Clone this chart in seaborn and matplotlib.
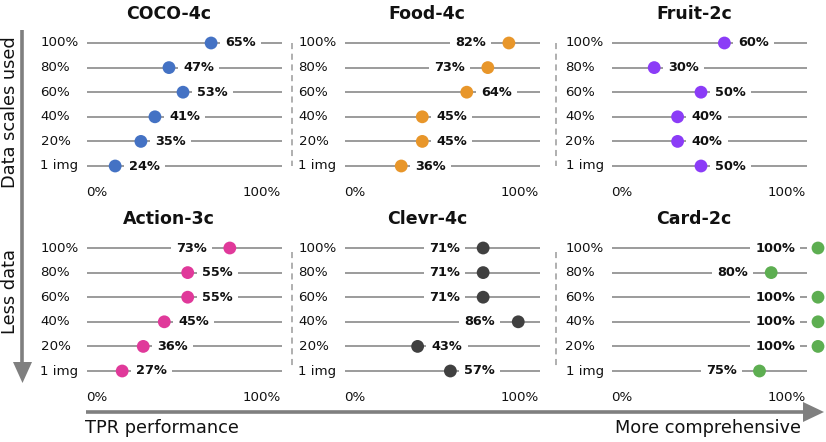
import matplotlib
matplotlib.use("Agg")
import matplotlib.pyplot as plt
import seaborn as sns
import pandas as pd
from matplotlib.patches import Polygon

# ---------------- data ----------------
row_labels = ["100%", "80%", "60%", "40%", "20%", "1 img"]
panel_titles = ["COCO-4c", "Food-4c", "Fruit-2c", "Action-3c", "Clevr-4c", "Card-2c"]
coco = [65, 47, 53, 41, 35, 24]
food = [82, 73, 64, 45, 45, 36]
fruit = [60, 30, 50, 40, 40, 50]
action = [73, 55, 55, 45, 36, 27]
clevr = [71, 71, 71, 86, 43, 57]
card = [100, 80, 100, 100, 100, 75]
panel_values = [coco, food, fruit, action, clevr, card]
panel_colors = ["#4472C4", "#E8962A", "#8B3CF7", "#E0399A", "#404040", "#5DAE51"]
axis_tick_labels = ["0%", "100%"]

# ---------------- style ----------------
sns.set_theme(style="white")
plt.rcParams["font.family"] = ["DejaVu Sans"]

W, H = 826, 442
fig = plt.figure(figsize=(W / 100, H / 100), dpi=100)

col_px0 = [59, 317, 584]   # pixel of value 0 in each column
unit = 234                 # pixels per 1.0
row_top = [43, 248]        # pixel of first row in each panel row
step = 24.6
xmax = 1.06
line_lo, line_hi = 0.12, 0.955

def add_px_axes(x, y_top, w, h):
    return fig.add_axes([x / W, 1 - (y_top + h) / H, w / W, h / H])

grey = "#808080"
ink = "#111111"

for k, (title, vals, col) in enumerate(zip(panel_titles, panel_values, panel_colors)):
    r, c = divmod(k, 3)
    ax = add_px_axes(col_px0[c], row_top[r] - step / 2, xmax * unit, 6 * step)
    df = pd.DataFrame({"row": list(range(6)), "value": [v / 100 for v in vals],
                       "label": row_labels})
    ax.hlines(df["row"], line_lo, line_hi, color=grey, lw=1.1, zorder=1)
    sns.scatterplot(data=df, x="value", y="row", ax=ax, color=col, s=85,
                    edgecolor="none", zorder=4, clip_on=False, legend=False)
    for i, v in enumerate(vals):
        right = v < 70
        ax.annotate(f"{v}%", xy=(v / 100, i),
                    xytext=(10.1 if right else -16.6, 0), textcoords="offset points",
                    ha="left" if right else "right", va="center",
                    fontsize=9.3, fontweight="bold", color=ink,
                    bbox=dict(boxstyle="square,pad=0.4", fc="white", ec="none"),
                    zorder=3, annotation_clip=False)
        ax.text(-18.5 / unit, i, row_labels[i], ha="left", va="center",
                fontsize=9.6, color=ink)
    ax.text(line_lo - 0.005, 6.06, axis_tick_labels[0], ha="left", va="center",
            fontsize=9.6, color=ink)
    ax.text(line_hi - 0.008, 6.06, axis_tick_labels[1], ha="right", va="center",
            fontsize=9.6, color=ink)
    ax.text(0.47, -1.18, title, ha="center", va="center", fontsize=12.5,
            fontweight="bold", color=ink)
    ax.set_xlim(0, xmax)
    ax.set_ylim(5.5, -0.5)
    ax.set_axis_off()

# ---------------- overlay (separators, arrows, axis titles) ----------------
ov = fig.add_axes([0, 0, 1, 1])
ov.set_xlim(0, W)
ov.set_ylim(H, 0)
ov.set_axis_off()
ov.patch.set_alpha(0)

for x in (292, 556):
    ov.plot([x, x], [43, 166], ls=(0, (4, 3)), color="#9A9A9A", lw=1.1)
    ov.plot([x, x], [252, 369], ls=(0, (4, 3)), color="#9A9A9A", lw=1.1)

arrow_grey = "#7F7F7F"
# vertical arrow
ov.plot([22, 22], [30, 364], color=arrow_grey, lw=2.6, solid_capstyle="butt")
ov.add_patch(Polygon([[13, 362], [32, 362], [22.5, 383]], closed=True,
                     fc=arrow_grey, ec="none"))
# horizontal arrow
ov.plot([86, 805], [412, 412], color=arrow_grey, lw=2.6, solid_capstyle="butt")
ov.add_patch(Polygon([[803, 402], [803, 422], [824, 412]], closed=True,
                     fc=arrow_grey, ec="none"))

ov.text(10, 112, "Data scales used", rotation=90, ha="center", va="center",
        fontsize=12.8, color=ink)
ov.text(10, 292, "Less data", rotation=90, ha="center", va="center",
        fontsize=12.8, color=ink)
ov.text(85, 428, "TPR performance", ha="left", va="center", fontsize=12.8,
        color=ink)
ov.text(801, 428, "More comprehensive", ha="right", va="center", fontsize=12.8,
        color=ink)

fig.savefig("out.png", dpi=100)
